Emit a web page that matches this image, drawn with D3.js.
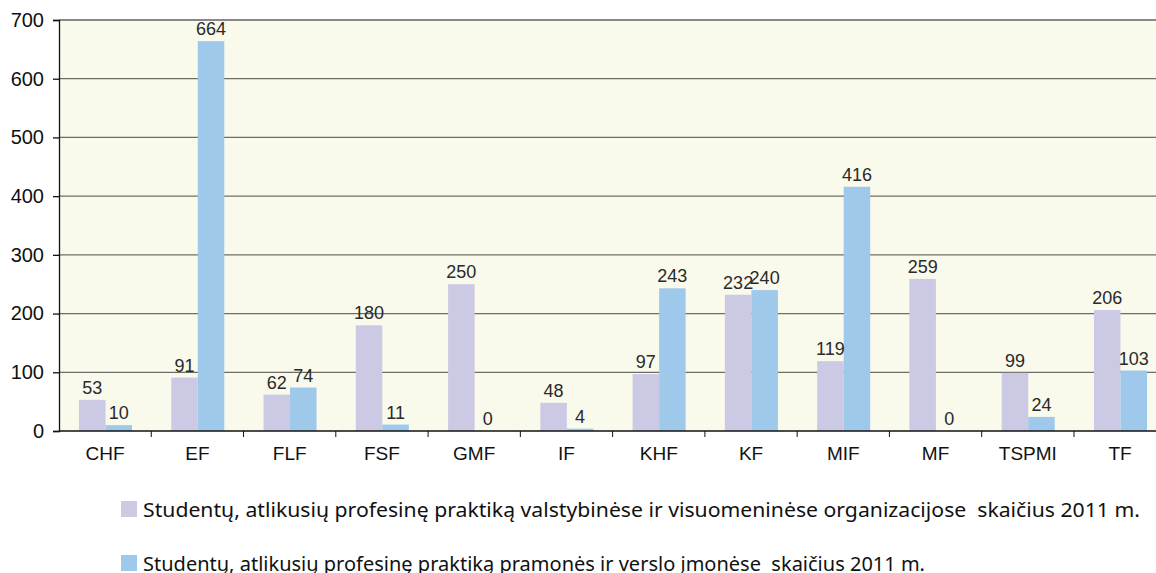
<!DOCTYPE html>
<html>
<head>
<meta charset="utf-8">
<script src="https://d3js.org/d3.v7.min.js"></script>
<style>
  body { margin: 0; background: #fff; }
  .axis text { font-family: "Liberation Sans", Arial, sans-serif; font-size: 19px; fill: #111; }
  .yax text { font-size: 20px; }
  .val { font-family: "Liberation Sans", Arial, sans-serif; font-size: 18px; fill: #2a2a2a; }
  .leg { font-family: "Noto Sans", sans-serif; font-size: 19px; fill: #111; white-space: pre; }
</style>
</head>
<body>
<script>
  var categories = ["CHF", "EF", "FLF", "FSF", "GMF", "IF", "KHF", "KF", "MIF", "MF", "TSPMI", "TF"];
  var valstybines = [53, 91, 62, 180, 250, 48, 97, 232, 119, 259, 99, 206];
  var pramones = [10, 664, 74, 11, 0, 4, 243, 240, 416, 0, 24, 103];
  var seriesNames = [
    "Studentų, atlikusių profesinę praktiką valstybinėse ir visuomeninėse organizacijose  skaičius 2011 m.",
    "Studentų, atlikusių profesinę praktiką pramonės ir verslo įmonėse  skaičius 2011 m."
  ];
  var colors = ["#ccc9e5", "#9ec9ea"];
  var yTicks = [0, 100, 200, 300, 400, 500, 600, 700];

  var width = 1156, height = 573;
  var plotLeft = 59, plotTop = 20, plotBottom = 431;
  var bandW = 92.27;
  var legendLen = [997, 782];

  var svg = d3.select("body").append("svg")
      .attr("width", width)
      .attr("height", height);

  var x0 = d3.scaleBand()
      .domain(categories)
      .range([plotLeft, plotLeft + bandW * categories.length]);

  var x1 = d3.scaleBand()
      .domain([0, 1])
      .range([20, 73]);

  var y = d3.scaleLinear()
      .domain([0, 700])
      .range([plotBottom, plotTop]);

  // plot background
  svg.append("rect")
      .attr("x", plotLeft)
      .attr("y", plotTop)
      .attr("width", width - plotLeft)
      .attr("height", plotBottom - plotTop)
      .attr("fill", "#f9f9ec");

  // gridlines
  svg.append("g")
      .selectAll("line")
      .data(yTicks.filter(d => d > 0))
      .join("line")
      .attr("x1", plotLeft)
      .attr("x2", width)
      .attr("y1", d => y(d))
      .attr("y2", d => y(d))
      .attr("stroke", d => d == 700 ? "#888" : "#6e6e66")
      .attr("stroke-width", d => d == 700 ? 2 : 1.3);

  var data = categories.map((c, i) => ({cat: c, vals: [valstybines[i], pramones[i]]}));

  var groups = svg.append("g")
      .selectAll("g")
      .data(data)
      .join("g")
      .attr("transform", d => "translate(" + x0(d.cat) + ",0)");

  groups.selectAll("rect")
      .data(d => d.vals.map((v, k) => ({k: k, v: v})))
      .join("rect")
      .attr("x", d => x1(d.k))
      .attr("y", d => y(d.v))
      .attr("width", x1.bandwidth())
      .attr("height", d => plotBottom - y(d.v))
      .attr("fill", d => colors[d.k]);

  groups.selectAll("text")
      .data(d => d.vals.map((v, k) => ({k: k, v: v})))
      .join("text")
      .attr("class", "val")
      .attr("x", d => x1(d.k) + x1.bandwidth() / 2)
      .attr("y", d => y(d.v) - 6)
      .attr("text-anchor", "middle")
      .text(d => d.v);

  // y axis
  svg.append("g")
      .attr("class", "axis yax")
      .attr("transform", "translate(" + plotLeft + ",0)")
      .call(d3.axisLeft(y).tickValues(yTicks).tickSize(6).tickPadding(9))
      .call(g => g.selectAll("path, line").attr("stroke", "#111").attr("stroke-width", 1.3));

  // x axis
  var xa = svg.append("g")
      .attr("class", "axis")
      .attr("transform", "translate(0," + plotBottom + ")");
  xa.append("line")
      .attr("x1", plotLeft).attr("x2", width)
      .attr("stroke", "#111").attr("stroke-width", 1.5);
  xa.selectAll(".tk")
      .data(categories.slice(1))
      .join("line")
      .attr("x1", d => x0(d)).attr("x2", d => x0(d))
      .attr("y1", 0).attr("y2", 6)
      .attr("stroke", "#111");
  xa.selectAll(".lab")
      .data(categories)
      .join("text")
      .attr("x", d => x0(d) + x0.bandwidth() / 2)
      .attr("y", 29)
      .attr("text-anchor", "middle")
      .text(d => d);

  // legend
  var leg = svg.append("g")
      .selectAll("g")
      .data(seriesNames)
      .join("g")
      .attr("transform", (d, i) => "translate(121," + (501 + i * 54) + ")");
  leg.append("rect")
      .attr("width", 16)
      .attr("height", 16)
      .attr("fill", (d, i) => colors[i]);
  leg.append("text")
      .attr("class", "leg")
      .attr("x", 22)
      .attr("y", 16)
      .attr("textLength", (d, i) => legendLen[i])
      .attr("lengthAdjust", "spacingAndGlyphs")
      .text(d => d);
</script>
</body>
</html>
